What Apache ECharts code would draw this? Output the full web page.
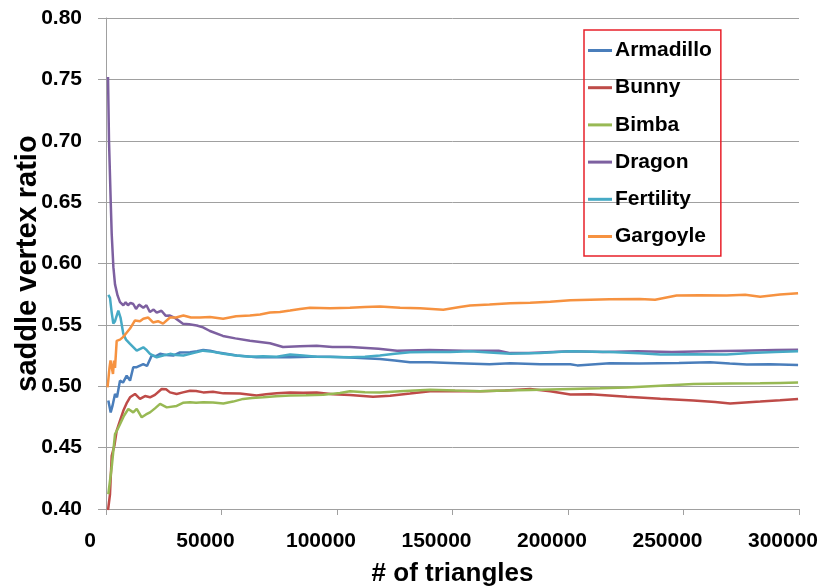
<!DOCTYPE html>
<html>
<head>
<meta charset="utf-8">
<script src="https://cdn.jsdelivr.net/npm/echarts@6/dist/echarts.min.js"></script>
<style>
html,body{margin:0;padding:0;background:#fff;}
#chart{width:825px;height:588px;}
</style>
</head>
<body>
<div id="chart"></div>
<script>
// ---- data: [number of triangles, saddle vertex ratio] ----
const seriesNames = ['Armadillo', 'Bunny', 'Bimba', 'Dragon', 'Fertility', 'Gargoyle'];

const armadillo = [[1000,0.4883],[2030,0.4787],[2800,0.484],[3900,0.4937],[4760,0.491],[6060,0.5046],[7360,0.503],[8960,0.5087],[10400,0.5046],[11800,0.5155],[13300,0.5155],[16150,0.518],[17750,0.5165],[19800,0.525],[21650,0.5245],[23400,0.5264],[26000,0.5255],[29100,0.525],[32000,0.5275],[36400,0.5277],[39400,0.5285],[42100,0.5296],[45000,0.529],[47900,0.5277],[52000,0.5265],[56600,0.525],[60600,0.5245],[65200,0.5236],[71000,0.5236],[79700,0.5236],[88300,0.524],[97000,0.524],[105600,0.5235],[118600,0.5222],[125000,0.521],[131600,0.5195],[140300,0.5195],[149000,0.519],[166000,0.518],[175000,0.5187],[188000,0.518],[201000,0.518],[204000,0.517],[218000,0.5187],[231000,0.5185],[248000,0.519],[261500,0.5195],[270000,0.5185],[277400,0.5177],[287500,0.518],[299600,0.5174]];

const bunny = [[870,0.399],[1730,0.412],[2470,0.4434],[3030,0.445],[3680,0.452],[4630,0.4638],[6060,0.472],[7490,0.48],[8880,0.486],[10400,0.491],[12550,0.4937],[14700,0.4897],[16900,0.492],[19050,0.491],[21200,0.493],[24100,0.4978],[26000,0.4975],[27700,0.495],[30600,0.4937],[33300,0.495],[36400,0.4964],[39000,0.4962],[42100,0.495],[46300,0.4955],[50800,0.4942],[58000,0.494],[65200,0.4924],[69300,0.4935],[73900,0.4942],[79700,0.495],[85300,0.4948],[91200,0.495],[98300,0.4935],[105600,0.4929],[115600,0.4915],[123000,0.4922],[131600,0.494],[140300,0.4959],[151100,0.4962],[162000,0.4959],[172800,0.4965],[183600,0.4978],[192300,0.496],[201000,0.4932],[209700,0.4935],[225500,0.4915],[240000,0.4898],[254300,0.4883],[263700,0.4872],[270200,0.486],[276700,0.4868],[283200,0.4875],[291800,0.4885],[299600,0.4897]];

const bimba = [[1000,0.412],[2470,0.434],[3900,0.461],[4760,0.464],[6060,0.469],[7790,0.476],[9660,0.4815],[11800,0.4787],[13300,0.4815],[15460,0.4747],[17320,0.477],[19050,0.4787],[21200,0.482],[23400,0.4856],[26300,0.4828],[30600,0.484],[33300,0.4865],[36400,0.487],[39000,0.4865],[42100,0.487],[46300,0.4868],[50800,0.486],[55000,0.4875],[59400,0.4897],[63200,0.4905],[68100,0.491],[73600,0.4918],[79700,0.4924],[86600,0.4926],[94100,0.493],[101300,0.4945],[105600,0.4959],[112100,0.4952],[118600,0.495],[127300,0.496],[140300,0.4972],[151100,0.4965],[162000,0.4959],[172800,0.4965],[183600,0.497],[201000,0.4978],[213900,0.4984],[225500,0.499],[240000,0.5005],[254300,0.5018],[270200,0.5022],[283200,0.5024],[291800,0.5027],[299600,0.503]];

const dragon = [[870,0.752],[1300,0.70],[2030,0.651],[2470,0.624],[3200,0.597],[3900,0.583],[5000,0.574],[6060,0.5685],[7500,0.566],[8500,0.5685],[9500,0.566],[10600,0.568],[11800,0.567],[13000,0.563],[14300,0.5665],[16150,0.564],[17500,0.566],[19000,0.5605],[20600,0.5625],[21950,0.560],[24000,0.5615],[25800,0.5575],[27700,0.5576],[30000,0.5555],[33300,0.551],[36000,0.5505],[39300,0.5495],[42000,0.548],[45000,0.545],[50600,0.541],[56000,0.539],[62300,0.537],[71000,0.535],[76600,0.532],[84000,0.5325],[91200,0.533],[98000,0.532],[105600,0.532],[118000,0.5305],[126000,0.529],[140000,0.5295],[155000,0.529],[170000,0.529],[175000,0.527],[183000,0.527],[201000,0.5285],[215000,0.528],[230000,0.5285],[245000,0.528],[260000,0.5285],[275000,0.529],[290000,0.5295],[299600,0.5297]];

const fertility = [[1000,0.5745],[1730,0.572],[2470,0.56],[3160,0.551],[3900,0.553],[5330,0.5617],[6280,0.556],[7490,0.5427],[8660,0.538],[10400,0.5345],[13300,0.529],[16150,0.5317],[17300,0.53],[19050,0.5264],[21950,0.5236],[24700,0.525],[27700,0.5264],[30300,0.5255],[33500,0.525],[37700,0.527],[42100,0.529],[46300,0.528],[50800,0.5264],[56300,0.525],[62300,0.524],[68000,0.5245],[73900,0.524],[79700,0.5258],[85300,0.525],[91200,0.524],[98300,0.5238],[105600,0.5236],[112100,0.524],[118600,0.525],[125000,0.5265],[131600,0.5277],[140300,0.528],[149000,0.528],[157600,0.5285],[166000,0.5275],[175000,0.5264],[188000,0.527],[201000,0.5285],[218000,0.528],[231000,0.5268],[240000,0.5258],[254200,0.526],[268700,0.5258],[278800,0.527],[289700,0.528],[299600,0.5285]];

const gargoyle = [[650,0.499],[1000,0.505],[1500,0.515],[1950,0.521],[2470,0.5155],[3030,0.51],[3460,0.521],[3900,0.515],[4630,0.537],[6060,0.538],[7360,0.54],[8660,0.543],[10400,0.547],[12550,0.5536],[14700,0.553],[16150,0.555],[18300,0.556],[20350,0.552],[22500,0.553],[24700,0.551],[27700,0.556],[30300,0.556],[33500,0.5576],[36800,0.556],[40700,0.556],[45000,0.5565],[50700,0.555],[56300,0.557],[62300,0.5576],[66700,0.5585],[71000,0.56],[75300,0.5605],[79700,0.5617],[84000,0.563],[88300,0.564],[97000,0.5635],[105600,0.564],[112100,0.5645],[118600,0.565],[127300,0.564],[136000,0.5635],[146000,0.5623],[153200,0.5645],[157600,0.5658],[166000,0.5665],[175000,0.5677],[183600,0.568],[192300,0.5688],[201000,0.57],[209700,0.5705],[218000,0.5708],[231000,0.571],[237700,0.5705],[247000,0.574],[257000,0.5742],[268700,0.574],[276700,0.5745],[283200,0.573],[291800,0.5748],[299600,0.5758]];

const allData = [armadillo, bunny, bimba, dragon, fertility, gargoyle];
const colors = ['#4A7EBB', '#BE4B48', '#98B954', '#7D60A0', '#46AAC5', '#F69240'];

const chart = echarts.init(document.getElementById('chart'), null, {renderer: 'canvas'});
const FONT = '"Liberation Sans", Arial, sans-serif';

chart.setOption({
  animation: false,
  backgroundColor: '#ffffff',
  grid: {left: 106, right: 26, top: 18, bottom: 79, containLabel: false, outerBoundsMode: 'none'},
  legend: {
    orient: 'vertical',
    left: 584, top: 30,
    padding: [10, 9, 9, 4],
    icon: 'rect',
    itemWidth: 24, itemHeight: 3, itemGap: 16.2,
    borderColor: '#E8202A', borderWidth: 1.5, borderRadius: 0,
    textStyle: {fontFamily: FONT, fontWeight: 'bold', fontSize: 21, color: '#000', padding: [0,0,0,-2], lineHeight: 21},
    data: seriesNames
  },
  xAxis: {
    type: 'value', min: 0, max: 300000, interval: 50000,
    name: '# of triangles', nameLocation: 'middle', nameGap: 52, nameMoveOverlap: false,
    nameTextStyle: {fontFamily: FONT, fontWeight: 'bold', fontSize: 26, color: '#000'},
    axisLine: {show: true, lineStyle: {color: '#A0A0A0', width: 1}},
    axisTick: {show: true, length: 6, lineStyle: {color: '#A0A0A0'}},
    splitLine: {show: false},
    axisLabel: {fontFamily: FONT, fontWeight: 'bold', fontSize: 21, color: '#000', margin: 22, padding: [0, 32, 0, 0],
      formatter: v => String(v)}
  },
  yAxis: {
    type: 'value', min: 0.40, max: 0.80, interval: 0.05,
    name: 'saddle vertex ratio', nameLocation: 'middle', nameGap: 64, nameMoveOverlap: false,
    nameTextStyle: {fontFamily: FONT, fontWeight: 'bold', fontSize: 29, color: '#000'},
    axisLine: {show: true, lineStyle: {color: '#A0A0A0', width: 1}},
    axisTick: {show: true, length: 8, lineStyle: {color: '#A0A0A0'}},
    splitLine: {show: true, lineStyle: {color: '#A0A0A0', width: 1}},
    axisLabel: {fontFamily: FONT, fontWeight: 'bold', fontSize: 21, color: '#000', margin: 24,
      formatter: v => v.toFixed(2)}
  },
  series: seriesNames.map((n, i) => ({
    name: n, type: 'line', data: allData[i],
    symbol: 'none', showSymbol: false, smooth: false,
    lineStyle: {color: colors[i], width: 2.5},
    itemStyle: {color: colors[i]},
    z: 2
  }))
});
</script>
</body>
</html>
